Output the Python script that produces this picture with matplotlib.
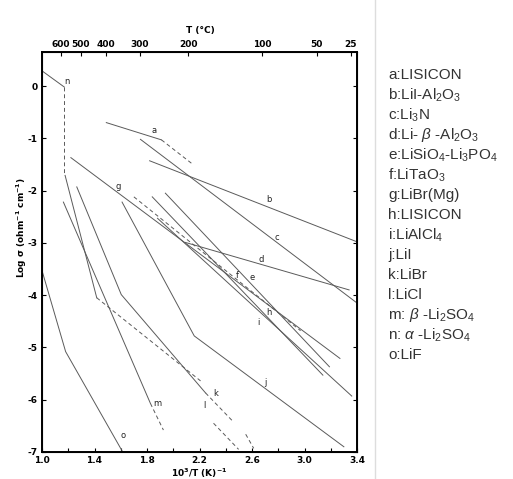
import matplotlib.pyplot as plt
from matplotlib.lines import Line2D

plt.rcParams['axes.unicode_minus'] = False
plt.rcParams['mathtext.fontset'] = 'custom'
plt.rcParams['mathtext.rm'] = 'Liberation Sans'
plt.rcParams['mathtext.it'] = 'Liberation Sans:italic'
plt.rcParams['mathtext.default'] = 'regular'

# Arrhenius break points: x = 10^3/T (K^-1), y = log sigma (ohm^-1 cm^-1)
x_a = [1.49, 1.91]
y_a = [-0.70, -1.03]
x_a_ext = [1.91, 2.14]
y_a_ext = [-1.03, -1.48]
x_b = [1.82, 3.39]
y_b = [-1.43, -2.97]
x_c = [1.75, 3.40]
y_c = [-1.02, -4.15]
x_d = [2.09, 3.34]
y_d = [-2.99, -3.90]
x_e = [1.88, 3.36]
y_e = [-2.53, -5.93]
x_f = [1.70, 2.97]
y_f = [-2.12, -4.68]
x_g = [1.22, 3.27]
y_g = [-1.37, -5.21]
x_h = [1.94, 3.19]
y_h = [-2.05, -5.37]
x_i = [1.84, 3.14]
y_i = [-2.12, -5.53]
x_j = [1.61, 2.16, 3.30]
y_j = [-2.22, -4.78, -6.90]
x_k = [1.265, 1.604, 2.246]
y_k = [-1.93, -3.99, -5.87]
x_k_ext = [2.246, 2.453]
y_k_ext = [-5.87, -6.41]
x_k_ext2 = [2.552, 2.613]
y_k_ext2 = [-6.66, -6.93]
x_l = [1.176, 1.417]
y_l = [-1.71, -4.05]
x_l_ext = [1.417, 2.208]
y_l_ext = [-4.05, -5.64]
x_l_ext2 = [2.307, 2.498]
y_l_ext2 = [-6.45, -6.95]
x_m = [1.163, 1.826]
y_m = [-2.22, -6.07]
x_m_ext = [1.826, 1.925]
y_m_ext = [-6.07, -6.58]
x_n = [1.0, 1.17]
y_n = [0.29, -0.02]
x_n_ext = [1.17, 1.17]
y_n_ext = [-0.02, -1.69]
x_o = [1.0, 1.18, 1.615]
y_o = [-3.53, -5.08, -7.0]

solid = [(x_a, y_a), (x_b, y_b), (x_c, y_c), (x_d, y_d), (x_e, y_e),
         (x_g, y_g), (x_h, y_h), (x_i, y_i), (x_j, y_j), (x_k, y_k),
         (x_l, y_l), (x_m, y_m), (x_n, y_n), (x_o, y_o)]
dashed = [(x_a_ext, y_a_ext), (x_f, y_f), (x_k_ext, y_k_ext),
          (x_k_ext2, y_k_ext2), (x_l_ext, y_l_ext), (x_l_ext2, y_l_ext2),
          (x_m_ext, y_m_ext), (x_n_ext, y_n_ext)]

# curve tags and where they sit
tags = list('abcdefghijklmno')
tag_x = [1.85, 2.73, 2.79, 2.67, 2.60, 2.49, 1.58, 2.73, 2.65, 2.70, 2.32, 2.24, 1.88, 1.19, 1.62]
tag_y = [-0.86, -2.17, -2.89, -3.31, -3.66, -3.63, -1.93, -4.33, -4.52, -5.68, -5.89, -6.12, -6.07, 0.08, -6.68]

names = ['LISICON', 'LiI-Al$_2$O$_3$', 'Li$_3$N', r'Li- $\mathit{\beta}$ -Al$_2$O$_3$',
         'LiSiO$_4$-Li$_3$PO$_4$', 'LiTaO$_3$', 'LiBr(Mg)', 'LISICON', 'LiAlCl$_4$',
         'LiI', 'LiBr', 'LiCl', r' $\mathit{\beta}$ -Li$_2$SO$_4$', r' $\mathit{\alpha}$ -Li$_2$SO$_4$', 'LiF']

x_ticks = [1.0, 1.4, 1.8, 2.2, 2.6, 3.0, 3.4]
x_minor = [1.2, 1.6, 2.0, 2.4, 2.8, 3.2]
y_ticks = [0, -1, -2, -3, -4, -5, -6, -7]
temps_c = [600, 500, 400, 300, 200, 100, 50, 25]

W, H = 513, 479
fig = plt.figure(figsize=(W / 100, H / 100), dpi=100)
ax = fig.add_axes([42 / W, 1 - 452 / H, (357 - 42) / W, (452 - 51.5) / H])

line_col = '#5a5a5a'
for xs, ys in solid:
    ax.plot(xs, ys, color=line_col, lw=0.7)
for xs, ys in dashed:
    ax.plot(xs, ys, color=line_col, lw=0.7, ls=(0, (4, 3)))

for t, tx, ty in zip(tags, tag_x, tag_y):
    ax.text(tx, ty, t, fontsize=6, ha='center', va='center', color='#222222')

ax.set_xlim(1.0, 3.4)
ax.set_ylim(-7, 0.66)
ax.set_xticks(x_ticks)
ax.set_xticklabels([f'{v:.1f}' for v in x_ticks])
ax.set_xticks(x_minor, minor=True)
ax.set_yticks(y_ticks)
ax.set_yticklabels([str(v) for v in y_ticks])
ax.tick_params(which='both', direction='in', length=3, width=0.8,
               labelsize=6.5, right=True, pad=3)
for lbl in ax.get_xticklabels() + ax.get_yticklabels():
    lbl.set_fontweight('bold')
for sp in ax.spines.values():
    sp.set_linewidth(1.4)

top = ax.twiny()
top.set_xlim(ax.get_xlim())
top.set_xticks([1000 / (t + 273.15) for t in temps_c])
top.set_xticklabels([str(t) for t in temps_c], fontweight='bold')
top.tick_params(direction='in', length=3, width=0.8, labelsize=6.5, pad=2)

ax.set_xlabel('10$^3$/T (K)$^{-1}$', fontsize=6.5, fontweight='bold', labelpad=1)
fig.text(22 / W, 1 - 228 / H, 'Log σ (ohm$^{-1}$ cm$^{-1}$)', rotation=90,
         fontsize=6.5, fontweight='bold', ha='center', va='center')
fig.text(200 / W, 1 - 30 / H, 'T (°C)', fontsize=6.5, fontweight='bold',
         ha='center', va='center')

# divider and key on the right
fig.add_artist(Line2D([375 / W, 375 / W], [0, 1], color='#dddddd', lw=1))
for i, (t, nm) in enumerate(zip(tags, names)):
    fig.text(388 / W, 1 - (75 + 20 * i) / H, f'{t}:{nm}', fontsize=11,
             color='#333333', family='Liberation Sans', va='center')

fig.savefig('out.png', dpi=100)
